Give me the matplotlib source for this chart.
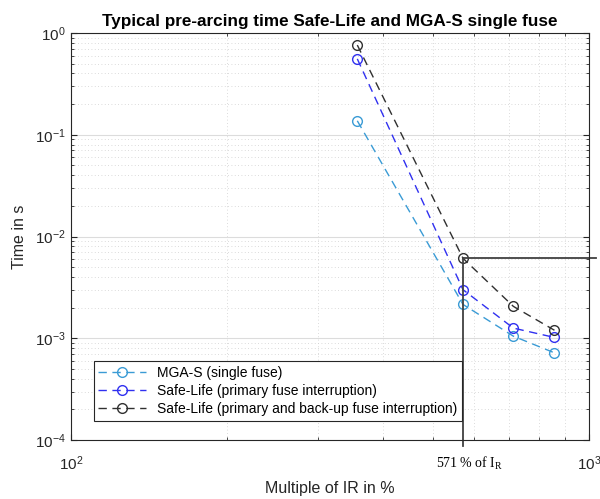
import numpy as np
import matplotlib
matplotlib.use("Agg")
import matplotlib.pyplot as plt
from matplotlib.ticker import NullFormatter

# multiple of rated current in %
multiple = [357, 571, 714, 857]

# pre-arcing time in s
mga_s = [0.137, 0.00215, 0.00105, 0.00072]
safe_primary = [0.556, 0.0030, 0.00126, 0.00102]
safe_backup = [0.76, 0.0061, 0.00206, 0.0012]

series_labels = [
    "MGA-S (single fuse)",
    "Safe-Life (primary fuse interruption)",
    "Safe-Life (primary and back-up fuse interruption)",
]
series_colors = ["#3a9bd5", "#3030f0", "#303030"]

marked_x = 571
marked_y = 0.0061

plt.rcParams["font.family"] = ["Liberation Sans", "DejaVu Sans"]

fig = plt.figure(figsize=(6, 4.99), dpi=100)
ax = fig.add_axes([0.118, 0.118, 0.864, 0.816])

for ys, lab, col in zip([mga_s, safe_primary, safe_backup], series_labels, series_colors):
    ax.plot(multiple, ys, linestyle=(0, (6, 4)), marker="o", markersize=7,
            markerfacecolor="none", markeredgewidth=1.0, color=col,
            linewidth=1.0, label=lab)

ax.set_xscale("log")
ax.set_yscale("log")
ax.set_xlim(100, 1000)
ax.set_ylim(1e-4, 1)
ax.xaxis.set_minor_formatter(NullFormatter())
ax.yaxis.set_minor_formatter(NullFormatter())

ax.grid(True, which="major", color="#dcdcdc", linestyle="-", linewidth=0.8)
ax.grid(True, which="minor", color="#cfcfcf", linestyle=(0, (1, 3)), linewidth=0.6)
ax.tick_params(which="both", direction="in", top=True, right=True, labelsize=11,
               colors="#262626")
ax.tick_params(which="major", length=4)
ax.tick_params(which="minor", length=2)
ax.tick_params(axis="x", pad=10)
for sp in ax.spines.values():
    sp.set_color("#262626")
    sp.set_linewidth(0.8)

# marker lines for 571 % of IR
ax.plot([marked_x, marked_x], [8.8e-5, marked_y], color="#404040", linewidth=1.3,
        clip_on=False)
ax.plot([marked_x, 1030], [marked_y, marked_y], color="#404040", linewidth=1.3,
        clip_on=False)
ax.text(marked_x * 1.03, 5.9e-5, "571 % of I$_\\mathregular{R}$", ha="center", va="center",
        fontsize=10, family="Liberation Serif")

ax.set_title("Typical pre-arcing time Safe-Life and MGA-S single fuse",
             fontsize=12.3, fontweight="bold", pad=5)
ax.set_xlabel("Multiple of IR in %", fontsize=11.5, color="#262626", labelpad=6)
ax.set_ylabel("Time in s", fontsize=11.5, color="#262626", labelpad=6)

leg = ax.legend(loc="lower left", bbox_to_anchor=(0.044, 0.047), fontsize=10,
                fancybox=False, framealpha=1, edgecolor="#262626",
                handlelength=3.4, borderpad=0.35, labelspacing=0.3,
                borderaxespad=0)
leg.get_frame().set_linewidth(0.8)

fig.savefig("out.png", dpi=100)
